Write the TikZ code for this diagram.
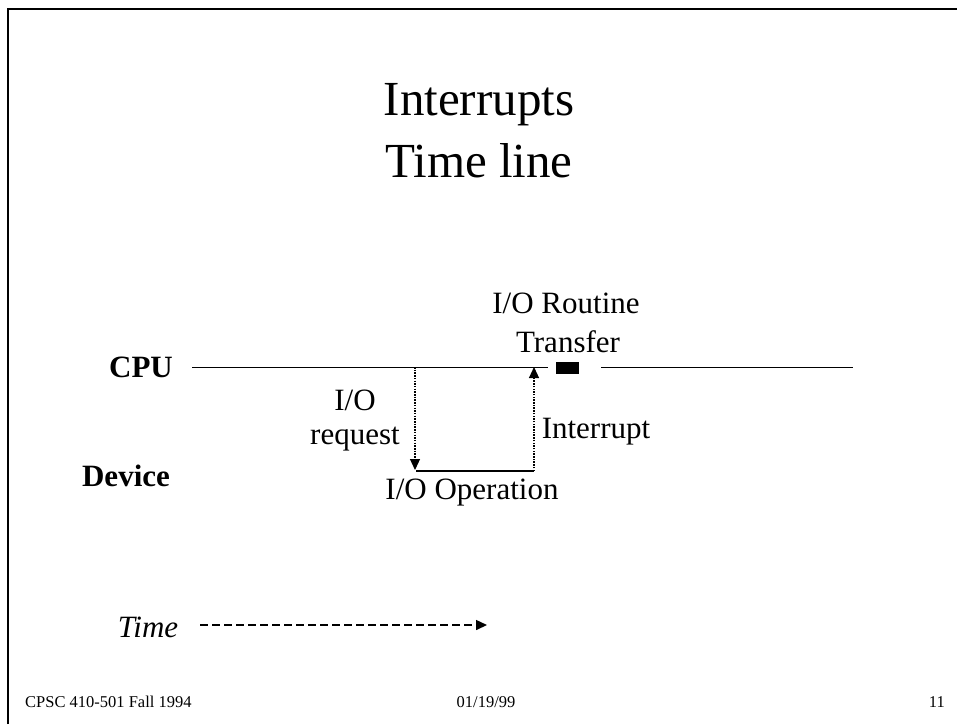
\documentclass[tikz,border=0pt]{standalone}
\usepackage{fontspec}
\setmainfont{Liberation Serif}
\usetikzlibrary{arrows.meta}
\begin{document}
\begin{tikzpicture}[x=1pt,y=-1pt,
  lbl/.style={inner sep=0pt,font=\fontsize{31}{34}\selectfont},
  ttl/.style={inner sep=0pt,font=\fontsize{49}{62}\selectfont,align=center},
  foot/.style={inner sep=0pt,font=\fontsize{16.5}{18}\selectfont},
  tip/.style={-{Triangle[length=11pt,width=10pt]}},
  dotarrow/.style={line width=1.2pt,dash pattern=on 1.5pt off 1.2pt,tip},
  timeline/.style={line width=1pt}]
\useasboundingbox (0,0) rectangle (957,724);
% frame
\draw[line width=2pt] (8,724) -- (8,9) -- (957,9);
% title
\node[ttl] (title) at (479,131) {Interrupts\\Time line};
% labels
\node[lbl,font=\fontsize{31}{34}\selectfont\bfseries] (cpu) at (141,367) {CPU};
\node[lbl,font=\fontsize{31}{34}\selectfont\bfseries] (dev) at (126,476) {Device};
\node[lbl] (rout) at (566,303) {I/O Routine};
\node[lbl] (trans) at (568,342) {Transfer};
\node[lbl,align=center] (req) at (355,421) {I/O\\request};
\node[lbl] (intr) at (596,432) {Interrupt};
\node[lbl] (oper) at (472,493) {I/O Operation};
\node[lbl,font=\fontsize{31}{34}\selectfont\itshape] (time) at (148,627) {Time};
% coordinates
\coordinate (c1) at (192,367);
\coordinate (c2) at (548,367);
\coordinate (c3) at (601,367);
\coordinate (c4) at (853,367);
\coordinate (rq) at (415,367);
\coordinate (rqb) at (415,470);
\coordinate (ib) at (534,471);
\coordinate (it) at (534,367);
\coordinate (bl) at (416,471);
\coordinate (t1) at (200,625);
\coordinate (t2) at (487,625);
% CPU line
\draw[timeline] (c1) -- (c2);
\draw[timeline] (c3) -- (c4);
\node[fill=black,minimum width=23pt,minimum height=12pt,inner sep=0pt] (blk) at (567.5,368) {};
% arrows
\draw[dotarrow] (rq) -- (rqb);
\draw[line width=2pt] (bl) -- (ib);
\draw[dotarrow] (ib) -- (it);
% time arrow
\draw[line width=1.5pt,dash pattern=on 8pt off 4pt,tip] (t1) -- (t2);
% footer
\node[foot,anchor=west] (f1) at (25,702) {CPSC 410-501 Fall 1994};
\node[foot] (f2) at (486,702) {01/19/99};
\node[foot,anchor=east] (f3) at (945,702) {11};
\end{tikzpicture}
\end{document}
